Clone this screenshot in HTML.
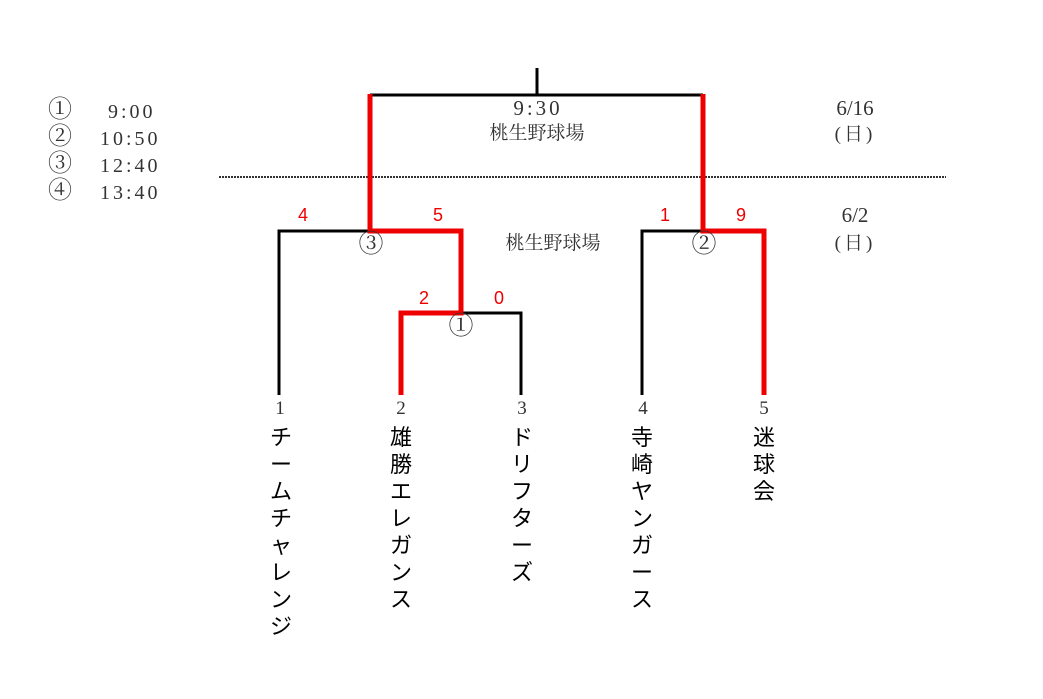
<!DOCTYPE html>
<html><head><meta charset="utf-8"><style>
body{margin:0;width:1043px;height:699px;background:#fff;position:relative;overflow:hidden;font-family:"Liberation Serif","Noto Serif CJK JP",serif;color:#333}
.t{position:absolute;white-space:nowrap;font-size:19px;line-height:1}
.c{transform:translateX(-50%)}
.r{position:absolute;color:#e00;font-family:"Liberation Sans",sans-serif;font-size:18px;transform:translateX(-50%);line-height:1}
.n{position:absolute;top:424px;width:30px;transform:translateX(-50%);text-align:center;font-family:"Liberation Sans","Noto Sans CJK JP",sans-serif;font-size:22px;line-height:27px;color:#000}
.cc{font-size:25px}
</style></head><body>
<svg width="1043" height="699" style="position:absolute;left:0;top:0">
<g stroke="#000" stroke-width="3" fill="none">
<line x1="537" y1="68" x2="537" y2="95"/>
<line x1="370" y1="95" x2="703" y2="95"/>
<polyline points="279,395 279,231 370,231"/>
<polyline points="461,313 521,313 521,395"/>
<polyline points="642,395 642,231 703,231"/>
</g>
<line x1="219" y1="177" x2="946" y2="177" stroke="#333" stroke-width="2" stroke-dasharray="2,1"/>
<g stroke="#e00" stroke-width="5" fill="none">
<polyline points="370,94 370,231 461,231 461,313 401,313 401,395"/>
<polyline points="703,94 703,231 764,231 764,395"/>
</g>
</svg>
<div class="t" style="left:48px;top:97px;line-height:27px;font-size:24px">①<br>②<br>③<br>④</div>
<div class="t" style="left:100px;top:99px;line-height:27px;font-size:20px;letter-spacing:3px">&nbsp;9:00<br>10:50<br>12:40<br>13:40</div>
<div class="t c" style="left:538px;top:98px;font-size:21px;letter-spacing:3px">9:30</div>
<div class="t c" style="left:537px;top:124px">桃生野球場</div>
<div class="t c" style="left:855px;top:98px;font-size:21px">6/16</div>
<div class="t c" style="left:855px;top:125px;letter-spacing:3px">(日)</div>
<div class="t c" style="left:855px;top:205px;font-size:21px">6/2</div>
<div class="t c" style="left:855px;top:234px;letter-spacing:3px">(日)</div>
<div class="t c" style="left:553px;top:234px">桃生野球場</div>
<div class="t c cc" style="left:371px;top:232px">③</div>
<div class="t c cc" style="left:461px;top:314px">①</div>
<div class="t c cc" style="left:704px;top:232px">②</div>
<div class="r" style="left:303px;top:206px">4</div>
<div class="r" style="left:438px;top:206px">5</div>
<div class="r" style="left:665px;top:206px">1</div>
<div class="r" style="left:741px;top:206px">9</div>
<div class="r" style="left:424px;top:289px">2</div>
<div class="r" style="left:499px;top:289px">0</div>
<div class="t c" style="left:280px;top:399px">1</div>
<div class="t c" style="left:401px;top:399px">2</div>
<div class="t c" style="left:522px;top:399px">3</div>
<div class="t c" style="left:643px;top:399px">4</div>
<div class="t c" style="left:764px;top:399px">5</div>
<div class="n" style="left:281px">チ<br>ー<br>ム<br>チ<br>ャ<br>レ<br>ン<br>ジ</div>
<div class="n" style="left:401px">雄<br>勝<br>エ<br>レ<br>ガ<br>ン<br>ス</div>
<div class="n" style="left:522px">ド<br>リ<br>フ<br>タ<br>ー<br>ズ</div>
<div class="n" style="left:642px">寺<br>崎<br>ヤ<br>ン<br>ガ<br>ー<br>ス</div>
<div class="n" style="left:764px">迷<br>球<br>会</div>
</body></html>
